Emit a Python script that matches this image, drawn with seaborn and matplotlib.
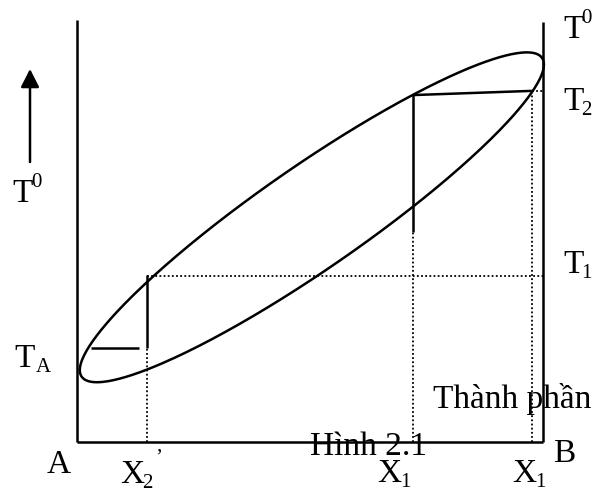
import numpy as np
import matplotlib
matplotlib.use("Agg")
import matplotlib.pyplot as plt
import seaborn as sns

# composition axis: A = 0, B = 1 ; temperature axis: arbitrary 0..100
X2P = 0.150          # X2'
X1 = 0.721           # X1 (solid at T2)
X1_LIQ = 0.976       # X1 (liquid at T2)
TA = 22.4
T1 = 39.5
T2_SOL = 82.6
T2_LIQ = 83.6
X1_SOLID_END = 50.0  # solid part of the vertical at X1 ends here
TA_LINE = [0.030, 0.133]

# two-phase lens (ellipse) in composition / temperature units
ELL_CENTER = (0.504, 53.5)
ELL_A, ELL_B, ELL_ANGLE = 280.0, 51.5, 34.7   # semi-axes in pixels, degrees

# pixel scale of the drawing
PX_X = 466.0   # pixels per composition unit
PX_T = 4.2     # pixels per temperature unit


def comp(px):
    return (px - 77) / PX_X


def temp(py):
    return (442 - py) / PX_T


sns.set_theme(style="white")
plt.rcParams['font.family'] = ['Liberation Serif', 'DejaVu Serif']

fig = plt.figure(figsize=(5.95, 4.91), dpi=100)
ax = fig.add_axes([0, 0, 1, 1])
ax.set_xlim(comp(0), comp(595))
ax.set_ylim(temp(491), temp(0))
ax.axis('off')

lw = 1.8
dot = dict(color='black', lw=1.3, linestyle=(0, (1, 1.3)))
solid = dict(color='black', lw=lw, solid_capstyle='butt')

# frame: left axis, bottom, right axis
ax.plot([0, 0], [0, temp(20)], **solid)
ax.plot([0, 1], [0, 0], **solid)
ax.plot([1, 1], [0, 100], **solid)

# ellipse
t = np.linspace(0, 2 * np.pi, 400)
th = np.radians(ELL_ANGLE)
u, v = ELL_A * np.cos(t), ELL_B * np.sin(t)
ex = ELL_CENTER[0] + (u * np.cos(th) - v * np.sin(th)) / PX_X
ey = ELL_CENTER[1] + (u * np.sin(th) + v * np.cos(th)) / PX_T
sns.lineplot(x=ex, y=ey, sort=False, estimator=None, color='black', lw=lw, ax=ax)

# dotted guides
ax.plot([X2P, X2P], [0, TA], **dot)
ax.plot([X2P, 1], [T1, T1], **dot)
ax.plot([X1, X1], [0, X1_SOLID_END], **dot)
ax.plot([X1_LIQ, X1_LIQ], [0, T2_LIQ], **dot)
ax.plot([X1_LIQ, 1], [T2_LIQ, T2_LIQ], **dot)

# solid construction lines
ax.plot([X2P, X2P], [TA, T1 + 0.3], **solid)
ax.plot(TA_LINE, [TA, TA], **solid)
ax.plot([X1, X1], [X1_SOLID_END, T2_SOL], **solid)
ax.plot([X1, X1_LIQ], [T2_SOL, T2_LIQ], **solid)

# temperature arrow
ax.annotate('', xy=(comp(30), temp(69)), xytext=(comp(30), temp(162)),
            arrowprops=dict(arrowstyle='-|>,head_length=0.55,head_width=0.28',
                            color='black', lw=lw, shrinkA=0, shrinkB=0,
                            mutation_scale=20))

big, small = 24, 15


def label(px, py, s, size=big):
    ax.text(comp(px), temp(py), s, fontsize=size, ha='left', va='baseline',
            color='black')


label(12, 202, 'T')
label(31, 187, '0', small)
label(563, 38, 'T')
label(581, 23, '0', small)
label(563, 110, 'T')
label(581, 115, '2', small)
label(563, 273, 'T')
label(581, 278, '1', small)
label(14, 367, 'T')
label(36, 372, 'A', small)
label(47, 473, 'A')
label(120, 483, 'X')
label(142, 488, '2', small)
label(155, 463, '\u2019', small)
label(310, 455, 'Hình 2.1')
label(377, 482, 'X')
label(400, 487, '1', small)
label(512, 482, 'X')
label(535, 487, '1', small)
label(553, 462, 'B')
label(433, 408, 'Thành phần')

fig.savefig('out.png', dpi=100)
